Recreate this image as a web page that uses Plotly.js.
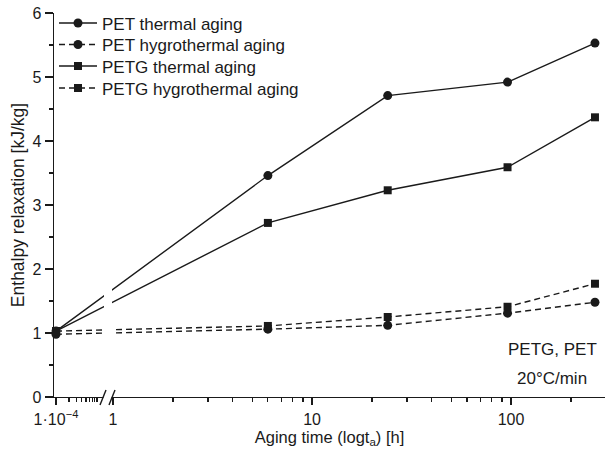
<!DOCTYPE html>
<html>
<head>
<meta charset="utf-8">
<script src="https://cdn.plot.ly/plotly-3.0.1.min.js"></script>
<style>html,body{margin:0;padding:0;background:#fff;}#chart{width:605px;height:452px;}</style>
</head>
<body>
<div id="chart"></div>
<script>
// ---- data (aging time in hours, enthalpy relaxation in kJ/kg) ----
const agingTime = [1e-4, 6, 24, 96, 264];
const petThermal = [1.03, 3.46, 4.71, 4.92, 5.53];
const petHygro = [0.98, 1.06, 1.12, 1.31, 1.48];
const petgThermal = [1.03, 2.72, 3.23, 3.59, 4.37];
const petgHygro = [1.03, 1.11, 1.25, 1.41, 1.77];
const seriesNames = ["PET thermal aging", "PET hygrothermal aging", "PETG thermal aging", "PETG hygrothermal aging"];
const majorTickValues = [1e-4, 1, 10, 100];
const majorTickLabels = ["1\u00b710<sup>\u22124</sup>", "1", "10", "100"];

// ---- broken log axis: values below 1 h are compressed into the segment left of the break ----
const LEFT_START_LOG = -0.2864;   // display log10 position of 1e-4
const LEFT_DECADE = 0.216;        // display log10 width of one real decade left of the break
function axisMap(t) {
  if (t >= 1) return t;
  return Math.pow(10, LEFT_START_LOG + (Math.log10(t) + 4) * LEFT_DECADE);
}
const xDisp = agingTime.map(axisMap);

const minorVals = [];
for (let k = 2; k <= 9; k++) minorVals.push(axisMap(k * 1e-4));
for (let k = 2; k <= 9; k++) minorVals.push(k, k * 10);
minorVals.push(200, 300);

const ink = "#1a1a1a";
const fontFam = "Liberation Sans, Arial, sans-serif";
const legendIds = ["legend", "legend2", "legend3", "legend4"];
function tr(y, i, symbol, dash, size) {
  return {
    x: xDisp, y: y, name: seriesNames[i], type: "scatter", mode: "lines+markers",
    legend: legendIds[i],
    line: {color: ink, width: 1.4, dash: dash},
    marker: {symbol: symbol, size: size, color: ink},
    cliponaxis: false
  };
}
const data = [
  tr(petThermal, 0, "circle", "solid", 9),
  tr(petHygro, 1, "circle", "6px,4px", 9),
  tr(petgThermal, 2, "square", "solid", 8),
  tr(petgHygro, 3, "square", "6px,4px", 8)
];

const L = 54, R = 605, T = 12.5, B = 397;
const px = v => (v - L) / (R - L);
const py = v => (B - v) / (B - T);

function legendAt(rowY) {
  return {x: 0, y: py(rowY), xanchor: "left", yanchor: "middle", bgcolor: "rgba(0,0,0,0)",
          font: {size: 17, color: ink, family: fontFam}, itemwidth: 38, borderwidth: 0};
}

const layout = {
  width: 605, height: 452,
  margin: {l: L, r: 605 - R, t: T, b: 452 - B},
  paper_bgcolor: "#fff", plot_bgcolor: "#fff",
  font: {family: fontFam, size: 16, color: ink},
  showlegend: true,
  legend: legendAt(23),
  legend2: legendAt(44.5),
  legend3: legendAt(66),
  legend4: legendAt(88),
  xaxis: {
    type: "log", range: [-0.2965, 2.472],
    showgrid: false, zeroline: false, showline: true, linecolor: ink, linewidth: 1.4,
    ticks: "outside", ticklen: 7, tickwidth: 1.4, tickcolor: ink,
    tickmode: "array", tickvals: majorTickValues.map(axisMap), ticktext: majorTickLabels,
    tickfont: {size: 16},
    minor: {tickmode: "array", tickvals: minorVals, ticks: "outside", ticklen: 4, tickwidth: 1.2, tickcolor: ink, showgrid: false},
    title: {text: "Aging time (logt<sub>a</sub>) [h]", font: {size: 16.5}, standoff: 3}
  },
  yaxis: {
    range: [0, 6], showgrid: false, zeroline: false, showline: true, linecolor: ink, linewidth: 1.4,
    ticks: "outside", ticklen: 8, tickwidth: 1.4, tickcolor: ink, dtick: 1, tick0: 0,
    tickfont: {size: 16},
    minor: {dtick: 0.5, ticks: "outside", ticklen: 4, tickwidth: 1.2, tickcolor: ink, showgrid: false},
    title: {text: "Enthalpy relaxation [kJ/kg]", font: {size: 17.5}, standoff: 3}
  },
  shapes: [
    // gap in the curves at the axis break
    {type: "rect", xref: "paper", yref: "paper", x0: px(104), x1: px(112), y0: py(370), y1: py(150),
     fillcolor: "#fff", line: {width: 0}, layer: "above"},
    // gap in the x axis line between the break marks
    {type: "rect", xref: "paper", yref: "paper", x0: px(103.5), x1: px(111.5), y0: py(399), y1: py(395),
     fillcolor: "#fff", line: {width: 0}, layer: "above"},
    {type: "line", xref: "paper", yref: "paper", x0: px(100), y0: py(405), x1: px(106), y1: py(390),
     line: {color: ink, width: 1.4}, layer: "above"},
    {type: "line", xref: "paper", yref: "paper", x0: px(109), y0: py(405), x1: px(115), y1: py(390),
     line: {color: ink, width: 1.4}, layer: "above"}
  ],
  annotations: [
    {xref: "paper", yref: "paper", x: px(552), y: py(349), text: "PETG, PET", showarrow: false,
     xanchor: "center", yanchor: "middle", font: {size: 17, color: ink}},
    {xref: "paper", yref: "paper", x: px(552), y: py(378), text: "20\u00b0C/min", showarrow: false,
     xanchor: "center", yanchor: "middle", font: {size: 17, color: ink}}
  ]
};

Plotly.newPlot("chart", data, layout, {staticPlot: true, displayModeBar: false});
</script>
</body>
</html>
